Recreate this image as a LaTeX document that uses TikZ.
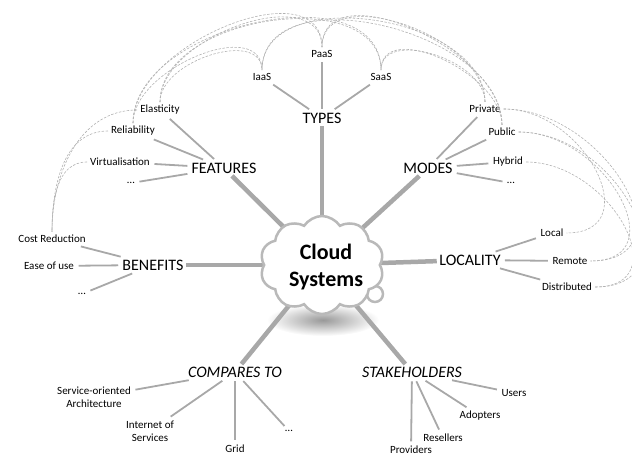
\documentclass[tikz,border=0pt]{standalone}
\usepackage{fontspec}
\setmainfont{Carlito}
\usepackage{xcolor}
\usepackage{tikz}
\usetikzlibrary{shapes.symbols, backgrounds, positioning}
\definecolor{spk}{RGB}{168, 168, 168}
\definecolor{lnk}{RGB}{178, 178, 178}
\tikzset{
    cloudnode/.style = {draw=gray!55, fill=white, cloud, cloud puffs=10, cloud puff arc=115, aspect=1.3,
      line width=2.5pt, inner sep=0em, node distance=0em},
    bubblenode/.style = {draw=gray!55, fill=white, circle, line width=2.5pt, minimum size=16pt,
      inner sep=0em, node distance=0em},
    titlenode/.style = {draw=none, fill=none, rectangle, inner sep=0em, node distance=0em,
      font=\fontsize{22}{27}\selectfont\bfseries, align=center},
    topicnode/.style = {draw=none, fill=none, rectangle, inner sep=0.25em, node distance=0em,
      font=\fontsize{16}{19}\selectfont},
    topicitnode/.style = {topicnode, font=\fontsize{16}{19}\selectfont\itshape},
    leafnode/.style = {draw=none, fill=none, rectangle, inner sep=0.3em, node distance=0em,
      font=\fontsize{11}{13}\selectfont},
    spoke/.style = {draw=spk, line width=4.5pt},
    branchline/.style = {draw=spk, line width=1.8pt, shorten <=0.15em, shorten >=0.15em},
    dashlink/.style = {draw=lnk, line width=0.6pt, dash pattern=on 2.5pt off 1.5pt},
    every text node part/.style={align=center}
}

\begin{document}
\begin{tikzpicture}[x=1pt, y=-1pt]
\useasboundingbox (0,0) rectangle (632,462);

% centre
\node [bubblenode, name=bubble] at (375,294) {};
\node [cloudnode, name=cloud, minimum width=124pt, minimum height=98pt] at (322,265) {};
\node [titlenode, name=title, right of = cloud, xshift=4pt, yshift=-2pt] {Cloud\\Systems};

\node [topicnode, name=types, above of = cloud, yshift=147pt] {TYPES};
\node [topicnode, name=features, above of = cloud, xshift=-98pt, yshift=97pt] {FEATURES};
\node [topicnode, name=modes, above of = cloud, xshift=106pt, yshift=97pt] {MODES};
\node [topicnode, name=benefits, left of = cloud, xshift=-169pt, yshift=0pt] {BENEFITS};
\node [topicnode, name=locality, right of = cloud, xshift=148pt, yshift=5pt] {LOCALITY};
\node [topicitnode, name=compares, below of = cloud, xshift=-87pt, yshift=-107pt] {COMPARES TO};
\node [topicitnode, name=stake, below of = cloud, xshift=90pt, yshift=-107pt] {STAKEHOLDERS};

\begin{scope}[on background layer]
\shade [inner color=gray!80, outer color=white] (323,320) ellipse (56pt and 16pt);
\draw [spoke] (cloud.center) -- (types);
\draw [spoke] (cloud.center) -- (features);
\draw [spoke] (cloud.center) -- (modes);
\draw [spoke] (cloud.center) -- (benefits);
\draw [spoke] (cloud.center) -- (locality);
\draw [spoke] (cloud.center) -- (compares);
\draw [spoke] (cloud.center) -- (stake);
\end{scope}

% types
\node [leafnode, name=iaas, above of = types, xshift=-60pt, yshift=41pt] {IaaS};
\node [leafnode, name=paas, above of = types, yshift=64pt] {PaaS};
\node [leafnode, name=saas, above of = types, xshift=59pt, yshift=41pt] {SaaS};
\draw (types) edge[branchline] (iaas);
\draw (types) edge[branchline] (paas);
\draw (types) edge[branchline] (saas);

% features
\node [leafnode, name=elast, left of = features, xshift=-64pt, yshift=58pt] {Elasticity};
\node [leafnode, name=relia, left of = features, xshift=-91pt, yshift=37pt] {Reliability};
\node [leafnode, name=virt, left of = features, xshift=-104pt, yshift=6pt] {Virtualisation};
\node [leafnode, name=featmore, left of = features, xshift=-93pt, yshift=-15pt] {\ldots};
\draw (features) edge[branchline] (elast);
\draw (features) edge[branchline] (relia);
\draw (features) edge[branchline] (virt);
\draw (features) edge[branchline] (featmore);

% modes
\node [leafnode, name=priv, right of = modes, xshift=57pt, yshift=59pt] {Private};
\node [leafnode, name=pub, right of = modes, xshift=74pt, yshift=36pt] {Public};
\node [leafnode, name=hyb, right of = modes, xshift=80pt, yshift=6pt] {Hybrid};
\node [leafnode, name=modemore, right of = modes, xshift=83pt, yshift=-15pt] {\ldots};
\draw (modes) edge[branchline] (priv);
\draw (modes) edge[branchline] (pub);
\draw (modes) edge[branchline] (hyb);
\draw (modes) edge[branchline] (modemore);

% benefits
\node [leafnode, name=cost, left of = benefits, xshift=-101pt, yshift=26pt] {Cost Reduction};
\node [leafnode, name=ease, left of = benefits, xshift=-104pt, yshift=-1pt] {Ease of use};
\node [leafnode, name=benmore, left of = benefits, xshift=-71pt, yshift=-29pt] {\ldots};
\draw (benefits) edge[branchline] (cost);
\draw (benefits) edge[branchline] (ease);
\draw (benefits) edge[branchline] (benmore);

% locality
\node [leafnode, name=local, right of = locality, xshift=82pt, yshift=27pt] {Local};
\node [leafnode, name=remote, right of = locality, xshift=100pt, yshift=-1pt] {Remote};
\node [leafnode, name=distr, right of = locality, xshift=97pt, yshift=-27pt] {Distributed};
\draw (locality) edge[branchline] (local);
\draw (locality) edge[branchline] (remote);
\draw (locality) edge[branchline] (distr);

% compares to
\node [leafnode, name=soa, below of = compares, xshift=-141pt, yshift=-25pt, align=right] {Service-oriented\\Architecture};
\node [leafnode, name=ios, below of = compares, xshift=-85pt, yshift=-59pt, align=right] {Internet of\\Services};
\node [leafnode, name=grid, below of = compares, yshift=-77pt] {Grid};
\node [leafnode, name=cmpmore, below of = compares, xshift=54pt, yshift=-59pt] {\ldots};
\draw (compares) edge[branchline] (soa);
\draw (compares) edge[branchline] (ios);
\draw (compares) edge[branchline] (grid);
\draw (compares) edge[branchline] (cmpmore);

% stakeholders
\node [leafnode, name=users, below of = stake, xshift=102pt, yshift=-21pt] {Users};
\node [leafnode, name=adopt, below of = stake, xshift=68pt, yshift=-44pt] {Adopters};
\node [leafnode, name=resell, below of = stake, xshift=31pt, yshift=-66pt] {Resellers};
\node [leafnode, name=prov, below of = stake, xshift=-1pt, yshift=-78pt] {Providers};
\draw (stake) edge[branchline] (users);
\draw (stake) edge[branchline] (adopt);
\draw (stake) edge[branchline] (resell);
\draw (stake) edge[branchline] (prov);

% cross links
\draw (elast.north) edge[dashlink, out=90, in=90] (iaas.north);
\draw (elast.north) edge[dashlink, out=90, in=90] (paas.north);
\draw (elast.north) edge[dashlink, out=90, in=90] (saas.north);
\draw (relia.north) edge[dashlink, out=90, in=90] (iaas.north);
\draw (relia.north) edge[dashlink, out=90, in=90] (paas.north);
\draw (relia.north) edge[dashlink, out=90, in=90] (saas.north);
\draw (priv.north) edge[dashlink, out=90, in=90] (iaas.north);
\draw (priv.north) edge[dashlink, out=90, in=90] (paas.north);
\draw (priv.north) edge[dashlink, out=90, in=90] (saas.north);
\draw (pub.north) edge[dashlink, out=90, in=90] (iaas.north);
\draw (pub.north) edge[dashlink, out=90, in=90] (paas.north);
\draw (pub.north) edge[dashlink, out=90, in=90] (saas.north);

\draw (elast.west) edge[dashlink, out=180, in=90] (cost.north);
\draw (relia.west) edge[dashlink, out=180, in=90] (cost.north);
\draw (virt.west) edge[dashlink, out=180, in=90] (cost.north);

\draw (priv.east) edge[dashlink, out=0, in=0, looseness=1.5] (local.east);
\draw (priv.east) edge[dashlink, out=0, in=0, looseness=1.5] (remote.east);
\draw (pub.east) edge[dashlink, out=0, in=0, looseness=1.5] (remote.east);
\draw (pub.east) edge[dashlink, out=0, in=0, looseness=1.5] (distr.east);
\draw (hyb.east) edge[dashlink, out=0, in=0, looseness=1.5] (distr.east);
\end{tikzpicture}
\end{document}
